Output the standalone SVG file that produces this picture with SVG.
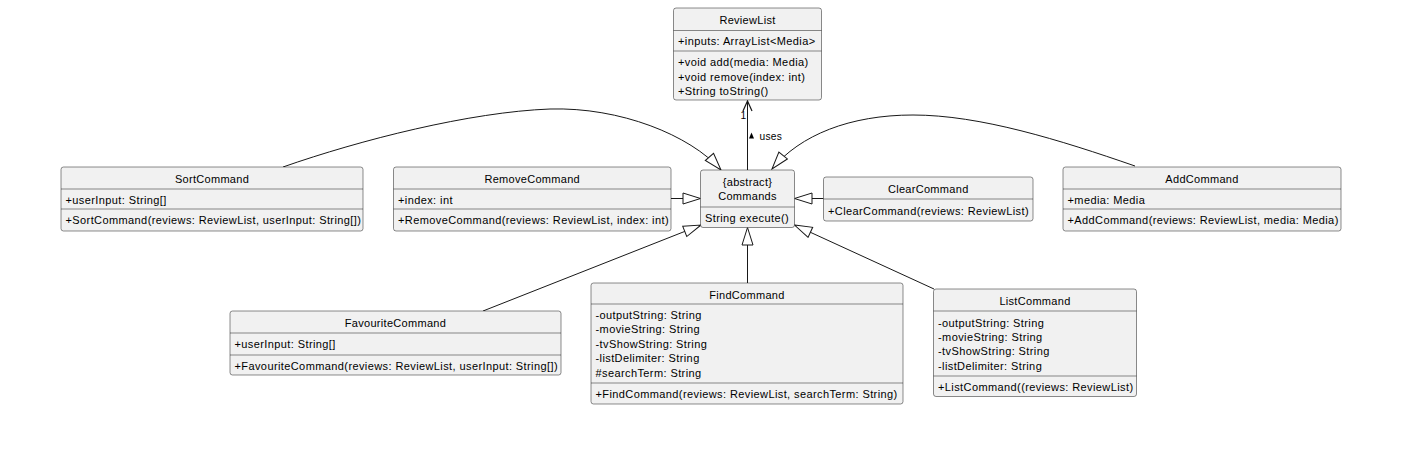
<svg xmlns="http://www.w3.org/2000/svg" width="1424" height="454" viewBox="0 0 1424 454">
<style>
.box{fill:#F1F1F1;stroke:#181818;stroke-width:0.5}
.sep{stroke:#181818;stroke-width:0.5}
.t{font-family:"Liberation Sans",Arial,sans-serif;font-size:11px;letter-spacing:0.4px;fill:#000}
.c{text-anchor:middle;letter-spacing:0.3px}
.lbl{font-family:"Liberation Sans",Arial,sans-serif;font-size:10.2px;letter-spacing:0.3px;fill:#000}
.edge{fill:none;stroke:#181818;stroke-width:1}
</style>
<defs>
<marker id="ext" markerUnits="userSpaceOnUse" markerWidth="22" markerHeight="14" viewBox="0 0 22 14" refX="19" refY="7" orient="auto">
<path d="M1.5,1.5 L19,7 L1.5,12.5 Z" fill="#FFFFFF" stroke="#181818" stroke-width="1"/>
</marker>
</defs>
<rect width="1424" height="454" fill="#FFFFFF"/>

<g id="connectors">
<path class="edge" d="M747.5,170 L747.5,102"/>
<polyline points="743,111 747.5,101 752,111" fill="none" stroke="#181818" stroke-width="1.2"/>
<text class="lbl" x="740.5" y="118.5">1</text>
<polygon points="749,138.5 751.5,132.5 754,138.5" fill="#000"/>
<text class="lbl" x="759.5" y="140">uses</text>
<path class="edge" d="M283,167 C360,140 470,112 550,109 C620,107 690,135 721,170" marker-end="url(#ext)"/>
<path class="edge" d="M1135,166 C1060,140 980,115 913,115 C850,115 800,135 772,169" marker-end="url(#ext)"/>
<path class="edge" d="M671,198.5 L700.5,198.5" marker-end="url(#ext)"/>
<path class="edge" d="M823.5,198.5 L794.5,198.5" marker-end="url(#ext)"/>
<path class="edge" d="M747.5,283 L747.5,227.5" marker-end="url(#ext)"/>
<path class="edge" d="M483,311 L701,225" marker-end="url(#ext)"/>
<path class="edge" d="M934,289 L794.5,225" marker-end="url(#ext)"/>
</g>

<g id="ReviewList">
<rect class="box" x="673.5" y="8" width="148" height="92" rx="2.5"/>
<line class="sep" x1="673.5" y1="30.5" x2="821.5" y2="30.5"/>
<line class="sep" x1="673.5" y1="51" x2="821.5" y2="51"/>
<text class="t c" x="747.5" y="23.5">ReviewList</text>
<text class="t" x="678" y="45">+inputs: ArrayList&lt;Media&gt;</text>
<text class="t" x="678" y="66">+void add(media: Media)</text>
<text class="t" x="678" y="80.5">+void remove(index: int)</text>
<text class="t" x="678" y="95">+String toString()</text>
</g>

<g id="Commands">
<rect class="box" x="700.5" y="170" width="94" height="57.5" rx="2.5"/>
<line class="sep" x1="700.5" y1="207" x2="794.5" y2="207"/>
<text class="t c" x="747.5" y="185.5">{abstract}</text>
<text class="t c" x="747.5" y="199.5">Commands</text>
<text class="t" x="705" y="222">String execute()</text>
</g>

<g id="SortCommand">
<rect class="box" x="61" y="167" width="302" height="64" rx="2.5"/>
<line class="sep" x1="61" y1="189" x2="363" y2="189"/>
<line class="sep" x1="61" y1="209" x2="363" y2="209"/>
<text class="t c" x="212" y="182.5">SortCommand</text>
<text class="t" x="65.5" y="203.5">+userInput: String[]</text>
<text class="t" x="65.5" y="223.5">+SortCommand(reviews: ReviewList, userInput: String[])</text>
</g>

<g id="RemoveCommand">
<rect class="box" x="393.5" y="167" width="277.5" height="64" rx="2.5"/>
<line class="sep" x1="393.5" y1="189" x2="671" y2="189"/>
<line class="sep" x1="393.5" y1="209" x2="671" y2="209"/>
<text class="t c" x="532.25" y="182.5">RemoveCommand</text>
<text class="t" x="398" y="203.5">+index: int</text>
<text class="t" x="398" y="223.5">+RemoveCommand(reviews: ReviewList, index: int)</text>
</g>

<g id="ClearCommand">
<rect class="box" x="823.5" y="177" width="209.5" height="44" rx="2.5"/>
<line class="sep" x1="823.5" y1="199" x2="1033" y2="199"/>
<text class="t c" x="928.25" y="193">ClearCommand</text>
<text class="t" x="828" y="214.5">+ClearCommand(reviews: ReviewList)</text>
</g>

<g id="AddCommand">
<rect class="box" x="1063" y="167" width="278" height="64" rx="2.5"/>
<line class="sep" x1="1063" y1="189" x2="1341" y2="189"/>
<line class="sep" x1="1063" y1="209" x2="1341" y2="209"/>
<text class="t c" x="1202" y="182.5">AddCommand</text>
<text class="t" x="1067.5" y="203.5">+media: Media</text>
<text class="t" x="1067.5" y="223.5">+AddCommand(reviews: ReviewList, media: Media)</text>
</g>

<g id="FavouriteCommand">
<rect class="box" x="230" y="311" width="331" height="64" rx="2.5"/>
<line class="sep" x1="230" y1="333" x2="561" y2="333"/>
<line class="sep" x1="230" y1="355" x2="561" y2="355"/>
<text class="t c" x="395.5" y="326.5">FavouriteCommand</text>
<text class="t" x="234.5" y="347.5">+userInput: String[]</text>
<text class="t" x="234.5" y="369.5">+FavouriteCommand(reviews: ReviewList, userInput: String[])</text>
</g>

<g id="FindCommand">
<rect class="box" x="591" y="283" width="312" height="121" rx="2.5"/>
<line class="sep" x1="591" y1="304" x2="903" y2="304"/>
<line class="sep" x1="591" y1="383" x2="903" y2="383"/>
<text class="t c" x="747" y="298.5">FindCommand</text>
<text class="t" x="595.5" y="319">-outputString: String</text>
<text class="t" x="595.5" y="333.4">-movieString: String</text>
<text class="t" x="595.5" y="347.8">-tvShowString: String</text>
<text class="t" x="595.5" y="362.2">-listDelimiter: String</text>
<text class="t" x="595.5" y="376.6">#searchTerm: String</text>
<text class="t" x="595.5" y="397.5">+FindCommand(reviews: ReviewList, searchTerm: String)</text>
</g>

<g id="ListCommand">
<rect class="box" x="933.5" y="289" width="203" height="107.5" rx="2.5"/>
<line class="sep" x1="933.5" y1="311" x2="1136.5" y2="311"/>
<line class="sep" x1="933.5" y1="376" x2="1136.5" y2="376"/>
<text class="t c" x="1035" y="305">ListCommand</text>
<text class="t" x="938" y="327">-outputString: String</text>
<text class="t" x="938" y="341.2">-movieString: String</text>
<text class="t" x="938" y="355.4">-tvShowString: String</text>
<text class="t" x="938" y="369.6">-listDelimiter: String</text>
<text class="t" x="938" y="390.5">+ListCommand((reviews: ReviewList)</text>
</g>
</svg>
